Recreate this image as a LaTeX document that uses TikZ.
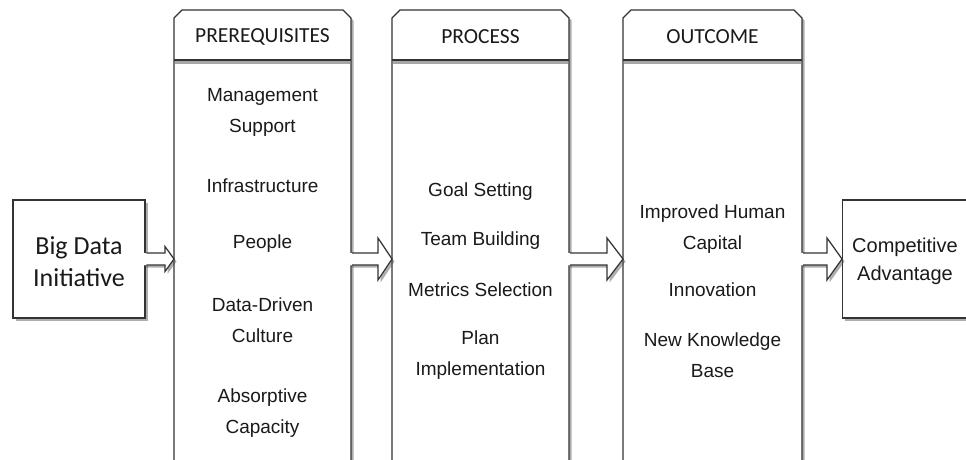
\documentclass[tikz,border=0pt]{standalone}
\usepackage{fontspec}
\setmainfont{Liberation Sans}
\newfontfamily\calfont{Carlito}
\usetikzlibrary{shadows,calc}
\definecolor{edge}{HTML}{333333}
\definecolor{ink}{HTML}{1A1A1A}
\tikzset{
  shd/.style={drop shadow={shadow xshift=2.5pt,shadow yshift=-2.5pt,opacity=0.45,fill=black!70}},
  box/.style={draw=edge,line width=1.3pt,fill=white,shd,inner sep=0pt},
  body/.style={text=ink,inner sep=0pt,align=center,font=\fontsize{19}{31}\selectfont},
  head/.style={text=ink,inner sep=0pt,font=\calfont\fontsize{21.5}{24}\selectfont},
  side/.style={text=ink,inner sep=0pt,align=center},
  colbody/.style={inner sep=0pt,anchor=north west,minimum height=420pt},
}
\newcommand\blkarrow[4]{%
  \path[fill=white,shd] ($(#1)+(-2,-6)$) -- ($(#2)+(-#4,-6)$) -- ($(#2)+(-#4,-#3)$) -- (#2) -- ($(#2)+(-#4,#3)$) -- ($(#2)+(-#4,6)$) -- ($(#1)+(-2,6)$) -- cycle;
  \path[fill=white] ($(#1)+(-2,-6)$) -- ($(#2)+(-#4,-6)$) -- ($(#2)+(-#4,-#3)$) -- (#2) -- ($(#2)+(-#4,#3)$) -- ($(#2)+(-#4,6)$) -- ($(#1)+(-2,6)$) -- cycle;
  \draw[draw=edge,line width=1.2pt,line join=miter] ($(#1)+(0.7,-6)$) -- ($(#2)+(-#4,-6)$) -- ($(#2)+(-#4,-#3)$) -- (#2) -- ($(#2)+(-#4,#3)$) -- ($(#2)+(-#4,6)$) -- ($(#1)+(0.7,6)$);}
\newcommand\column[3]{% name, x1, x2
  \path[fill=white,shd] (#2,60) -- (#2,18) -- ($(#2,10)+(8,0)$) -- ($(#3,10)+(-8,0)$) -- (#3,18) -- (#3,480) -- (#2,480) -- cycle;
  \draw[draw=edge,line width=1.3pt] (#2,480) -- (#2,18) -- ($(#2,10)+(8,0)$) -- ($(#3,10)+(-8,0)$) -- (#3,18) -- (#3,480);
  \draw[black!35,line width=2.5pt] ($(#2,62.5)+(0.8,0)$) -- ($(#3,62.5)+(-0.8,0)$);
  \draw[draw=edge,line width=1.3pt] (#2,60) -- (#3,60);
  \node[colbody,minimum width={(#3-#2)*1pt}] (#1) at (#2,60) {};}
\begin{document}
\begin{tikzpicture}[x=1pt,y=-1pt]
\useasboundingbox (0,0) rectangle (966,459);
\clip (0,0) rectangle (966,459);
\fill[white] (0,0) rectangle (966,459);

% side boxes
\node[box,minimum width=132pt,minimum height=118pt] (bd) at (79,259) {};
\node[side,font=\calfont\fontsize{26}{32}\selectfont] (bdt) at (79,262) {Big Data\\Initiative};
\node[box,minimum width=128pt,minimum height=118pt,anchor=west] (ca) at (842,259) {};
\node[side,font=\fontsize{20}{28}\selectfont] (cat) at (905,261) {Competitive\\Advantage};

% columns
\column{c1}{174}{351}
\column{c2}{392}{569}
\column{c3}{623}{802}

\node[head] (h1) at (262.5,37) {PREREQUISITES};
\node[head] (h2) at (480.5,37) {PROCESS};
\node[head] (h3) at (712.5,37) {OUTCOME};

% column 1
\node[body] (p1) at (262.5,112) {Management\\Support};
\node[body] (p2) at (262.5,186) {Infrastructure};
\node[body] (p3) at (262.5,244) {People};
\node[body] (p4) at (262.5,320) {Data-Driven\\Culture};
\node[body] (p5) at (262.5,413) {Absorptive\\Capacity};
% column 2
\node[body] (q1) at (480.5,192) {Goal Setting};
\node[body] (q2) at (480.5,241) {Team Building};
\node[body] (q3) at (480.5,290) {Metrics Selection};
\node[body] (q4) at (480.5,355) {Plan\\Implementation};
% column 3
\node[body] (r1) at (712.5,229) {Improved Human\\Capital};
\node[body] (r2) at (712.5,290) {Innovation};
\node[body] (r3) at (712.5,355) {New Knowledge\\Base};

% block arrows
\coordinate (a1s) at (bd.east);
\coordinate (a1e) at (c1.west |- bd.east);
\coordinate (a2s) at (c1.east |- bd.east);
\coordinate (a2e) at (c2.west |- bd.east);
\coordinate (a3s) at (c2.east |- bd.east);
\coordinate (a3e) at (c3.west |- bd.east);
\coordinate (a4s) at (c3.east |- bd.east);
\coordinate (a4e) at (ca.west);
\blkarrow{a1s}{a1e}{12.5}{9}
\blkarrow{a2s}{a2e}{21}{14}
\blkarrow{a3s}{a3e}{21}{16}
\blkarrow{a4s}{a4e}{21}{15}
\end{tikzpicture}
\end{document}
